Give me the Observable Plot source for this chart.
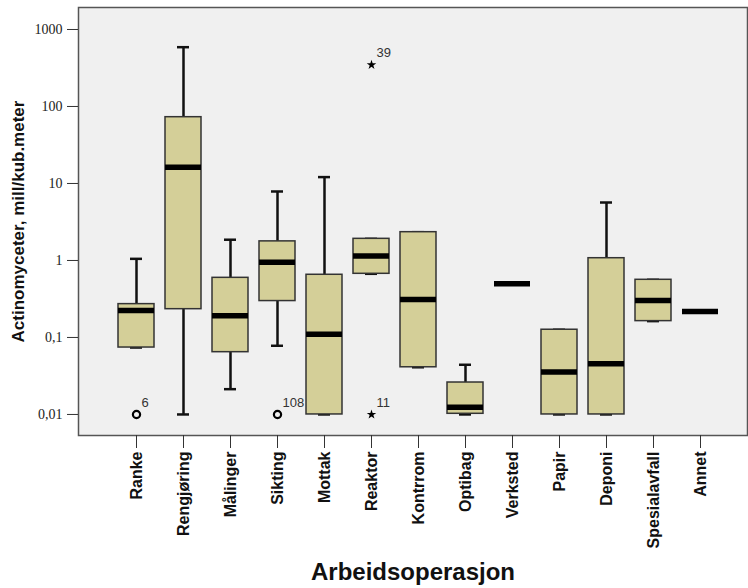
<!DOCTYPE html>
<html>
<head>
<meta charset="utf-8">
<script src="https://cdn.jsdelivr.net/npm/d3@7"></script>
<script src="https://cdn.jsdelivr.net/npm/@observablehq/plot@0.6"></script>
<style>
  html, body { margin: 0; padding: 0; background: #fff; }
  #chart { width: 748px; height: 588px; }
</style>
</head>
<body>
<div id="chart"></div>
<script>
const categories = ["Ranke","Rengjøring","Målinger","Sikting","Mottak","Reaktor","Kontrrom","Optibag","Verksted","Papir","Deponi","Spesialavfall","Annet"];
const whiskerLow  = [0.074, 0.01, 0.0213, 0.078, 0.01, 0.671, 0.041, 0.01, 0.5, 0.01, 0.01, 0.163, 0.218];
const q1          = [0.074, 0.233, 0.0644, 0.297, 0.01, 0.671, 0.041, 0.0102, 0.5, 0.01, 0.01, 0.163, 0.218];
const medians     = [0.224, 16.3, 0.191, 0.95, 0.110, 1.14, 0.312, 0.01245, 0.5, 0.0355, 0.0455, 0.303, 0.218];
const q3          = [0.271, 72.6, 0.595, 1.77, 0.652, 1.91, 2.33, 0.026, 0.5, 0.126, 1.07, 0.561, 0.218];
const whiskerHigh = [1.05, 589, 1.86, 7.87, 12.1, 1.91, 2.33, 0.0442, 0.5, 0.126, 5.66, 0.561, 0.218];

const outlierCat   = ["Ranke","Sikting","Reaktor","Reaktor"];
const outlierVal   = [0.01, 0.01, 0.01, 347];
const outlierLabel = ["6","108","11","39"];
const outlierType  = ["circle","circle","star","star"];

const yTicks = [0.01, 0.1, 1, 10, 100, 1000];
const yTickLabels = ["0,01","0,1","1","10","100","1000"];

const boxes = categories.map((c, i) => ({
  cat: c, lo: whiskerLow[i], q1: q1[i], med: medians[i], q3: q3[i], hi: whiskerHigh[i],
  hasBox: q3[i] > q1[i]
}));
const outliers = outlierCat.map((c, i) => ({cat: c, v: outlierVal[i], label: outlierLabel[i], type: outlierType[i]}));

const W = 748, H = 588;
const mL = 78, mR = 1, mT = 7, mB = 153;
const step = (701 - 135.4) / 12;

const chart = Plot.plot({
  width: W,
  height: H,
  marginLeft: mL,
  marginRight: mR,
  marginTop: mT,
  marginBottom: mB,
  style: {background: "#ffffff", overflow: "visible"},
  x: {type: "band", domain: categories, range: [135.4 - step / 2, 701 + step / 2], paddingInner: 0.236, paddingOuter: 0.118, align: 0.5},
  y: {type: "log", domain: [0.00533, 1930]},
  marks: [
    Plot.frame({fill: "#f0f0f0", stroke: "#555", strokeWidth: 1.5}),
    Plot.ruleX(boxes, {x: "cat", y1: "lo", y2: "q1", stroke: "#111", strokeWidth: 2.5}),
    Plot.ruleX(boxes, {x: "cat", y1: "q3", y2: "hi", stroke: "#111", strokeWidth: 2.5}),
    Plot.tickY(boxes.filter(d => d.hasBox), {x: "cat", y: "lo", stroke: "#111", strokeWidth: 2.5, insetLeft: 12, insetRight: 12}),
    Plot.tickY(boxes.filter(d => d.hasBox), {x: "cat", y: "hi", stroke: "#111", strokeWidth: 2.5, insetLeft: 12, insetRight: 12}),
    Plot.barY(boxes.filter(d => d.hasBox), {x: "cat", y1: "q1", y2: "q3", fill: "#d4cf98", stroke: "#333", strokeWidth: 1.5, inset: 0}),
    Plot.tickY(boxes, {x: "cat", y: "med", stroke: "#000", strokeWidth: 5.5}),
    Plot.dot(outliers.filter(d => d.type === "circle"), {x: "cat", y: "v", r: 3.6, stroke: "#000", strokeWidth: 2.2, fill: "none"}),
    Plot.dot(outliers.filter(d => d.type === "star"), {x: "cat", y: "v", symbol: "star", r: 3, fill: "#000", stroke: "none"}),
    Plot.text(outliers, {x: "cat", y: "v", text: "label", dx: 5, dy: -12, textAnchor: "start", fontSize: 13, fill: "#333", fontFamily: "Liberation Sans, Arial, sans-serif"}),
    Plot.axisY({ticks: yTicks, tickFormat: d => yTickLabels[yTicks.indexOf(d)], tickSize: 11, tickPadding: 5, label: null,
      fontSize: 14, fontFamily: "Liberation Serif, Times New Roman, serif", stroke: "#333", fill: "#222"}),
    Plot.axisX({tickRotate: -90, tickSize: 13, tickPadding: 3, label: null,
      fontSize: 16, fontWeight: "bold", fontFamily: "Liberation Sans, Arial, sans-serif", stroke: "#333", fill: "#111"}),
    Plot.text(["Actinomyceter, mill/kub.meter"], {frameAnchor: "left", dx: -60, rotate: -90, textAnchor: "middle",
      fontSize: 17, fontWeight: "bold", fontFamily: "Liberation Sans, Arial, sans-serif", fill: "#111"}),
    Plot.text(["Arbeidsoperasjon"], {frameAnchor: "bottom", dy: 144, textAnchor: "middle",
      fontSize: 24, fontWeight: "bold", fontFamily: "Liberation Sans, Arial, sans-serif", fill: "#111"})
  ]
});
document.getElementById("chart").appendChild(chart);
</script>
</body>
</html>
